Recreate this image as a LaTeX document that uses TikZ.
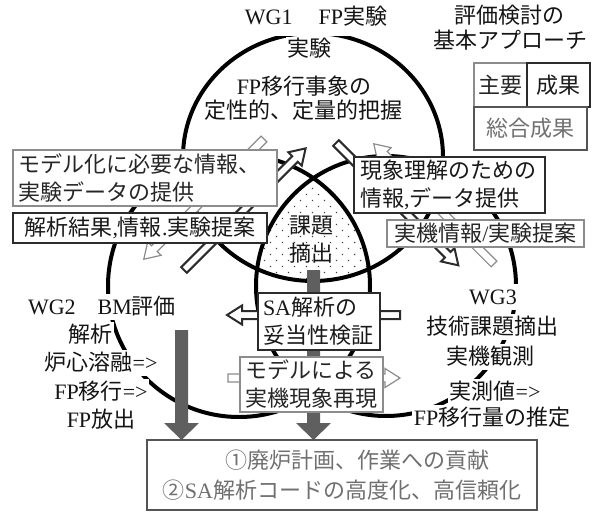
\documentclass[tikz,border=0pt]{standalone}
\usepackage{fontspec}
\setmainfont{Noto Sans CJK JP}
\newfontfamily\lat{Liberation Serif}
\usetikzlibrary{patterns.meta}
\definecolor{dk}{HTML}{2B2B2B}
\definecolor{lt}{HTML}{8C8C8C}
\definecolor{md}{HTML}{555555}
\definecolor{gtext}{HTML}{707070}
\definecolor{garrow}{HTML}{5F5F5F}
\newcommand\fs{\fontsize{22}{28}\selectfont}
\newcommand{\hollowarr}[5]{%
  \begin{scope}[shift={(#2,#3)},rotate=#4]
    \draw[#1] (0,-4) -- ({#5-15},-4) -- ({#5-15},-9.5) -- (#5,0) -- ({#5-15},9.5) -- ({#5-15},4) -- (0,4) -- cycle;
  \end{scope}}
\begin{document}
\begin{tikzpicture}[x=1pt,y=-1pt,
  venn/.style={line width=4pt, black},
  lbl/.style={fill=white, inner sep=1.5pt, font=\fs, text=black!92, text height=18.5pt, text depth=4.5pt},
  thinbox/.style={draw=lt, line width=1.3pt, fill=white, font=\fs, text=black!85, inner xsep=6pt, inner ysep=2pt},
  thickbox/.style={draw=dk, line width=2.6pt, fill=white, font=\fs, text=black!90, inner xsep=6pt, inner ysep=2pt},
  sumbox/.style={draw=md, line width=2.4pt, fill=white, font=\fs, text=gtext, inner xsep=6pt},
  thinarr/.style={draw=lt, line width=1.2pt, fill=white},
  thickarr/.style={draw=dk, line width=2pt, fill=white},
]
\useasboundingbox (0,0) rectangle (597,513);
% dotted centre region
\begin{scope}
  \clip (239,286) circle [radius=131];
  \clip (386,286) circle [radius=130];
  \fill[pattern={Dots[distance=8.5pt,radius=0.9pt,angle=45]}, pattern color=black!75] (313,157) ellipse [x radius=130, y radius=124];
\end{scope}
% circles
\draw[venn] (313,157) ellipse [x radius=130, y radius=124];
\draw[venn] (239,286) circle [radius=131];
\draw[venn] (386,286) circle [radius=130];
% hollow arrows
\hollowarr{thinarr}{264}{139}{225}{170}
\hollowarr{thickarr}{184}{270}{45}{172}
\hollowarr{thickarr}{336}{143}{-45}{173}
\hollowarr{thinarr}{494}{264}{135}{170}
\hollowarr{thickarr}{400}{315}{180}{173}
\hollowarr{thinarr}{228}{378}{0}{172}
% grey arrows
\fill[garrow] (175,330) -- (188,330) -- (188,423) -- (199,423) -- (181.5,440) -- (164,423) -- (175,423) -- cycle;
\fill[garrow] (307,270) -- (320,270) -- (320,423) -- (331,423) -- (313.5,440) -- (296,423) -- (307,423) -- cycle;
% boxes
\node[thinbox, text width=252pt, minimum height=56pt, align=left] (m1) at (145,178) {モデル化に必要な情報、\\実験データの提供};
\node[thickbox, text width=242pt, minimum height=30pt, align=center] (m2) at (140,228) {解析結果{\lat ,}情報{\lat .}実験提案};
\node[thickbox, text width=179pt, minimum height=56pt, align=left] (p1) at (449.5,185) {現象理解のための\\情報{\lat ,}データ提供};
\node[thinbox, text width=185pt, minimum height=27pt, align=center] (p2) at (485.5,233.5) {実機情報{\lat /}実験提案};
\node[thickbox, text width=112pt, inner xsep=5pt, minimum height=57pt, align=left] (sa) at (319,321.5) {{\lat SA}解析の\\妥当性検証};
\node[thinbox, text width=133pt, inner xsep=5pt, minimum height=55pt, align=left] (mr) at (311.5,384.5) {モデルによる\\実機現象再現};
\node[sumbox, minimum width=390pt, minimum height=70pt, align=center, font=\fontsize{22}{30}\selectfont] (bt) at (342,475) {\hspace*{30pt}①廃炉計画、作業への貢献\\②{\lat SA}解析コードの高度化、高信頼化};
% centre text
\node[font=\fs, align=center, text=black!90] (kd) at (311,240) {課題\\摘出};
% legend
\node[lbl] (l1) at (509,17) {評価検討の};
\node[lbl] (l2) at (510,42) {基本アプローチ};
\node[draw=lt, line width=1.3pt, fill=white, minimum width=53pt, minimum height=44pt, font=\fs, text=black!85] (k1) at (500.5,85) {主要};
\node[draw=dk, line width=2.6pt, fill=white, minimum width=63pt, minimum height=44pt, font=\fs, text=black!90] (k2) at (558.5,85) {成果};
\node[sumbox, minimum width=113pt, minimum height=43pt] (k3) at (530.5,128.5) {総合成果};
% WG1 labels
\node[lbl, minimum height=37pt, inner xsep=0pt] (t1) at (316,18) {{\lat WG1}\hspace{26pt}{\lat FP}実験};
\node[lbl] (t2) at (309,50) {実験};
\node[lbl] (t3) at (304,88) {{\lat FP}移行事象の};
\node[lbl] (t4) at (303,112) {定性的、定量的把握};
% WG2 labels
\node[lbl] (w2) at (102,307) {{\lat WG2}\hspace{22pt}{\lat BM}評価};
\node[lbl] (w2a) at (90,335) {解析};
\node[lbl] (w2b) at (101,363) {炉心溶融{\lat =>}};
\node[lbl] (w2c) at (101,392) {{\lat FP}移行{\lat =>}};
\node[lbl] (w2d) at (101,420) {{\lat FP}放出};
% WG3 labels
\node[lbl] (w3) at (493,297) {{\lat WG3}};
\node[lbl] (w3a) at (492,327) {技術課題摘出};
\node[lbl] (w3b) at (490,357) {実機観測};
\node[lbl] (w3c) at (495,392) {実測値{\lat =>}};
\node[lbl] (w3d) at (492,418) {{\lat FP}移行量の推定};
\end{tikzpicture}
\end{document}
